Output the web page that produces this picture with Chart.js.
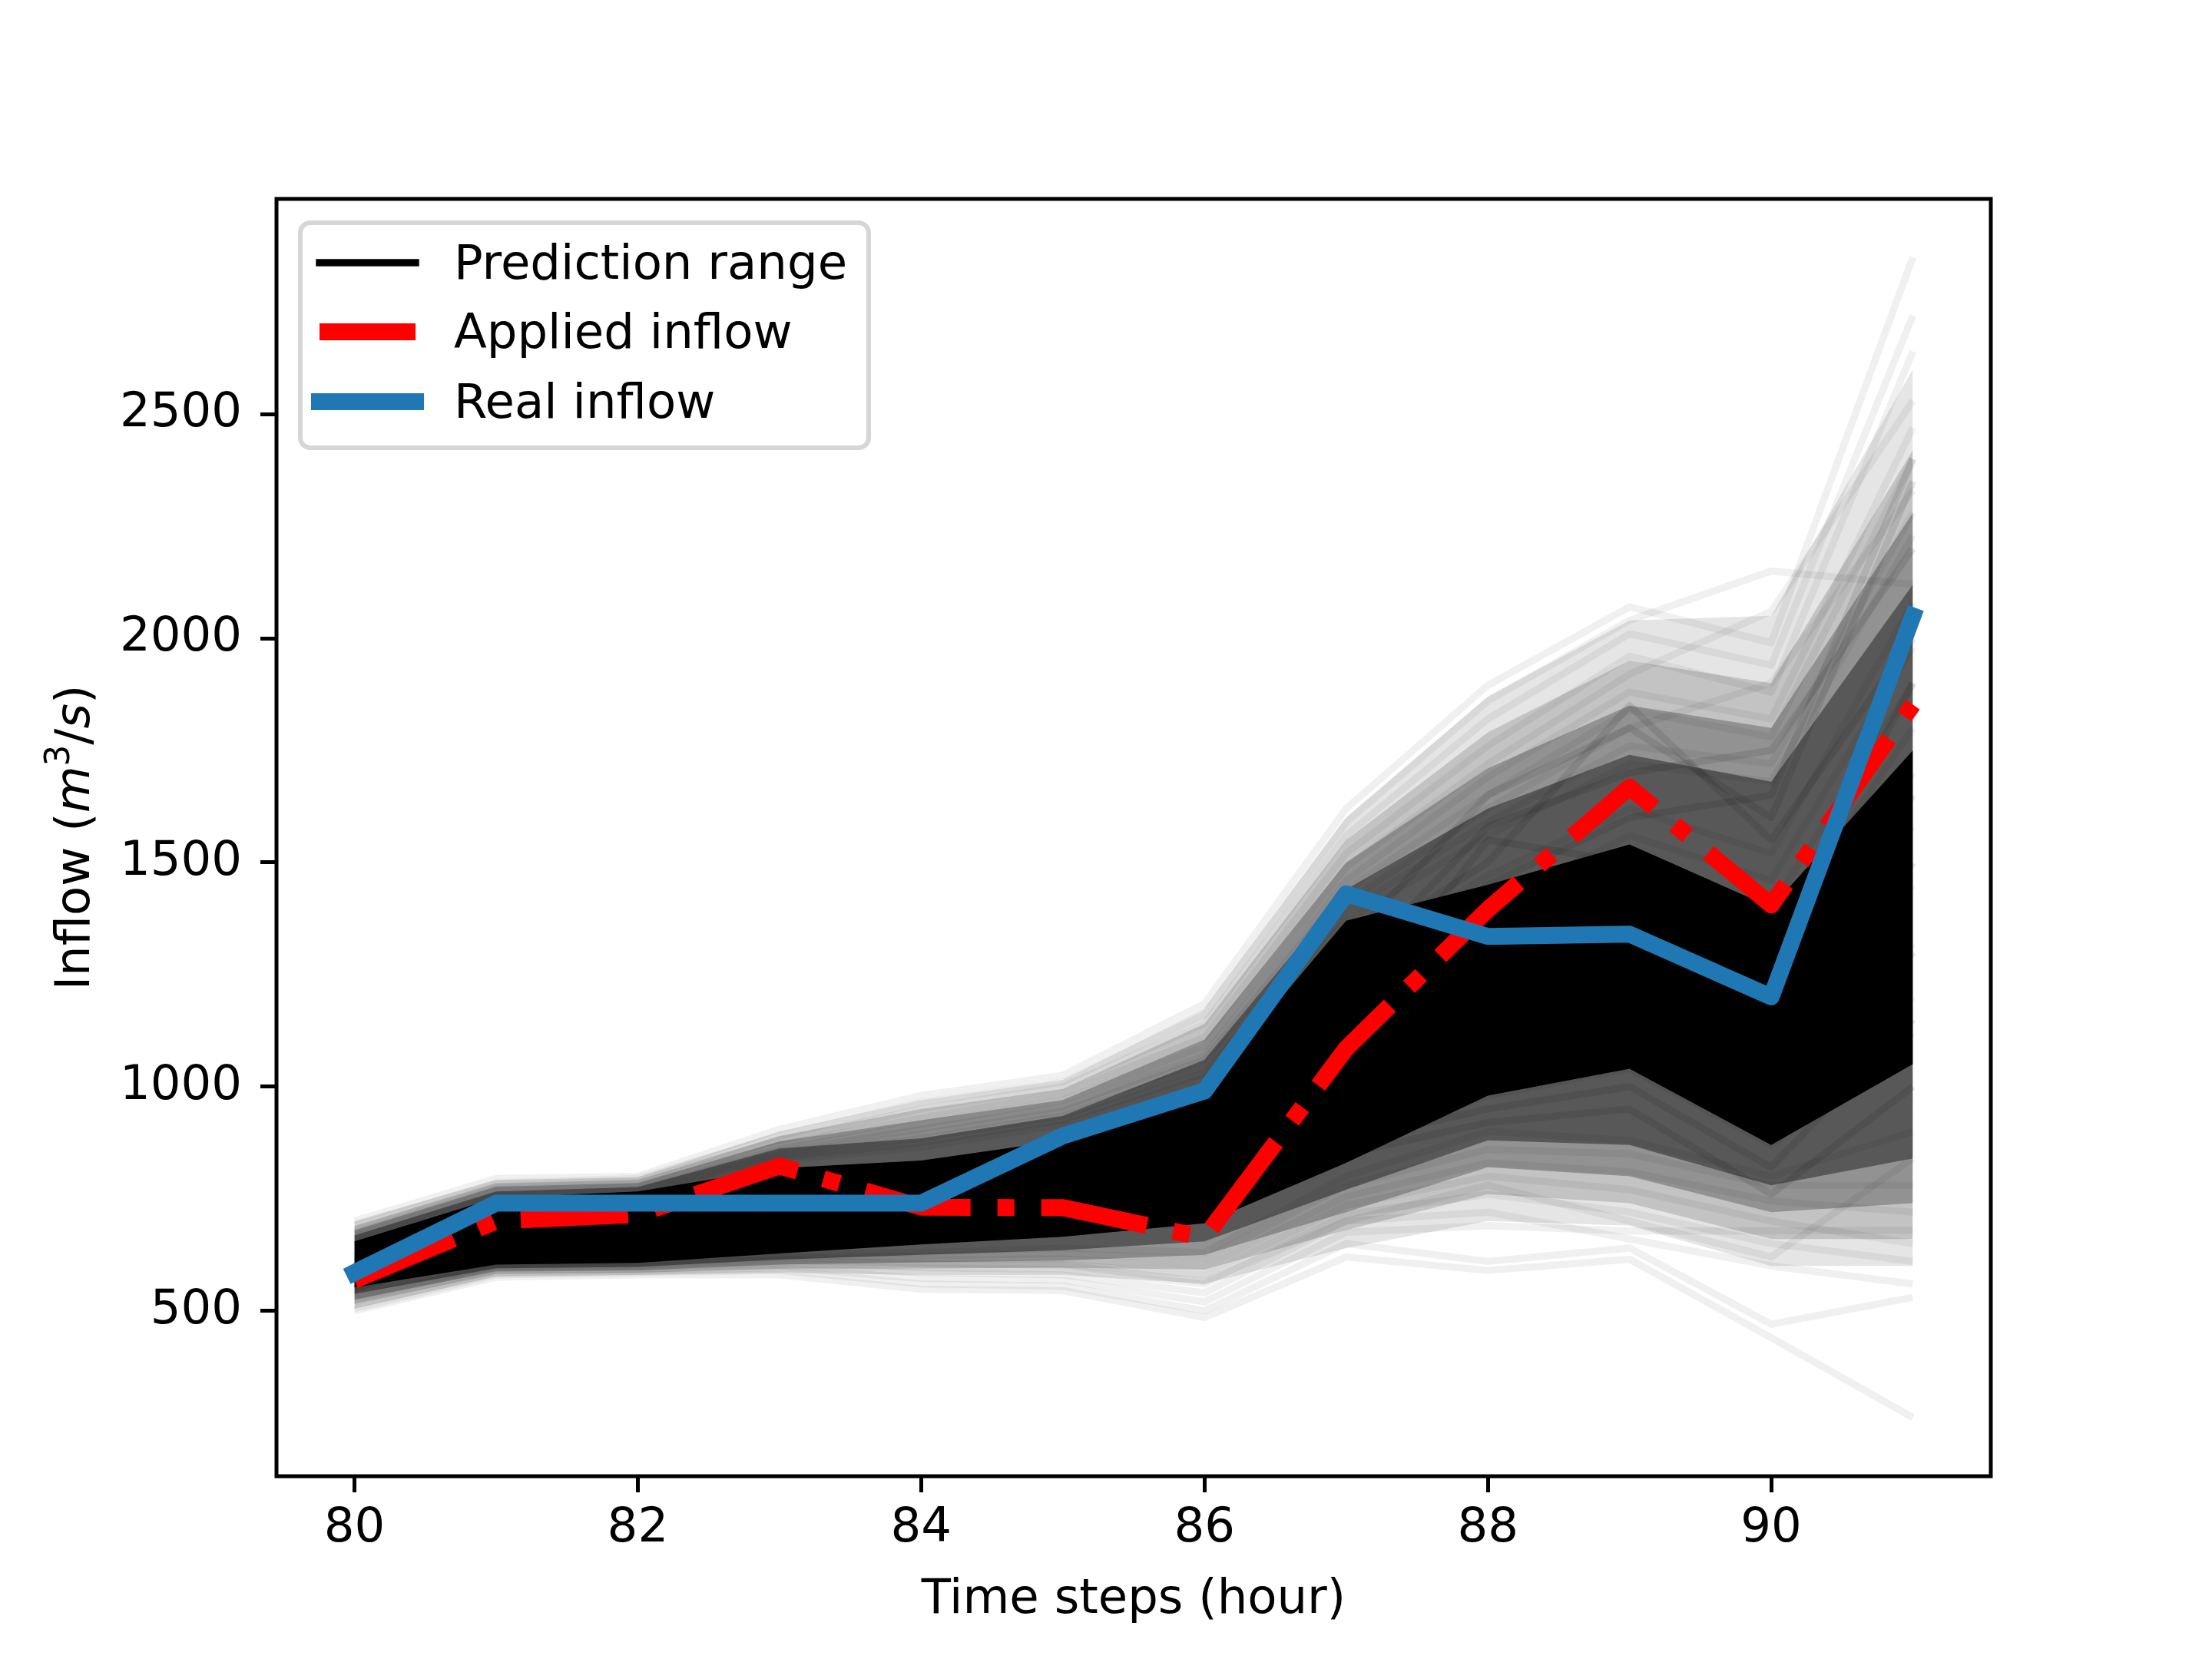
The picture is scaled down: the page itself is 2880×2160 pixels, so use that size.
<!DOCTYPE html>
<html>
<head>
<meta charset="utf-8">
<script src="https://cdn.jsdelivr.net/npm/chart.js@4.4.0/dist/chart.umd.min.js"></script>
<style>
  html, body { margin: 0; padding: 0; background: #fff; }
  canvas { display: block; }
</style>
</head>
<body>
<canvas id="chart" width="2880" height="2160"></canvas>
<script>
// time axis
const steps = [80, 81, 82, 83, 84, 85, 86, 87, 88, 89, 90, 91];
const xTicks = [80, 82, 84, 86, 88, 90];
const yTicks = [500, 1000, 1500, 2000, 2500];

// main series
const realInflow    = [585, 740, 740, 740, 740, 890, 990, 1430, 1335, 1340, 1200, 2050];
const appliedInflow = [568, 700, 715, 823, 731, 730, 663, 1085, 1395, 1668, 1405, 1852];

// prediction density (outer = lightest)
const bandAHi = [700, 792, 798, 900, 970, 1015, 1175, 1600, 1870, 2040, 2050, 2600];
const bandALo = [505, 576, 580, 585, 580, 580, 560, 640, 700, 690, 600, 600];
const bandBHi = [690, 785, 792, 890, 950, 995, 1140, 1550, 1790, 1950, 1900, 2420];
const bandBLo = [515, 582, 585, 594, 594, 596, 592, 680, 760, 740, 660, 660];
const bandCHi = [680, 777, 785, 878, 925, 970, 1105, 1500, 1710, 1850, 1800, 2280];
const bandCLo = [525, 588, 590, 603, 608, 612, 625, 720, 820, 800, 720, 740];
const bandDHi = [668, 766, 776, 862, 885, 935, 1060, 1440, 1620, 1740, 1680, 2120];
const bandDLo = [538, 595, 598, 614, 625, 635, 655, 770, 880, 870, 780, 840];
const coreHi  = [655, 752, 766, 818, 835, 880, 995, 1370, 1450, 1540, 1400, 1750];
const coreLo  = [552, 603, 607, 628, 648, 665, 695, 830, 980, 1040, 870, 1050];

// individual prediction runs that stand out
const highRuns = [
  [700, 795, 800, 905, 980, 1025, 1185, 1620, 1895, 2070, 1990, 2850],
  [690, 785, 795, 890, 965, 1010, 1160, 1590, 1860, 2040, 2150, 2120],
  [680, 780, 790, 880, 950, 1000, 1140, 1560, 1820, 2010, 1940, 2720],
  [675, 775, 785, 870, 930, 985, 1110, 1520, 1760, 1960, 1880, 2640],
  [670, 770, 780, 860, 915, 970, 1090, 1490, 1720, 1920, 2060, 2530],
  [665, 765, 775, 855, 905, 955, 1070, 1460, 1690, 1880, 1820, 2470],
  [660, 760, 770, 850, 895, 945, 1060, 1440, 1650, 1840, 1780, 2400],
  [655, 755, 765, 845, 885, 935, 1045, 1410, 1620, 1800, 1900, 2330],
  [650, 750, 760, 840, 875, 925, 1030, 1390, 1590, 1760, 1720, 2280],
  [645, 745, 755, 835, 865, 915, 1020, 1370, 1560, 1720, 1680, 2230]
];
const midRuns = [
  [620, 730, 745, 800, 810, 850, 950, 1280, 1470, 1620, 1520, 2080],
  [610, 720, 735, 790, 795, 830, 920, 1230, 1400, 1560, 1460, 1980],
  [600, 710, 725, 780, 785, 815, 900, 1190, 1360, 1500, 1400, 1900],
  [595, 700, 715, 770, 775, 800, 880, 1150, 1310, 1440, 1330, 1800],
  [590, 690, 705, 760, 765, 790, 860, 1110, 1260, 1380, 1250, 1700],
  [580, 680, 695, 745, 750, 770, 830, 1060, 1200, 1310, 1160, 1580],
  [570, 665, 685, 730, 735, 750, 800, 1010, 1150, 1240, 1080, 1450],
  [560, 650, 670, 710, 715, 730, 770, 960, 1090, 1170, 990, 1320],
  [550, 635, 655, 690, 695, 705, 740, 910, 1030, 1100, 920, 1200],
  [545, 625, 645, 675, 680, 690, 720, 870, 980, 1040, 870, 1120]
];
const crossRuns = [
  [600, 715, 730, 785, 790, 820, 930, 1320, 1650, 1800, 1600, 2350],
  [590, 705, 720, 770, 780, 805, 900, 1250, 1580, 1700, 1750, 2200],
  [585, 700, 715, 765, 770, 800, 890, 1300, 1500, 1850, 1550, 2000],
  [580, 690, 705, 755, 760, 785, 870, 1200, 1450, 1600, 1650, 2400],
  [575, 685, 700, 750, 755, 780, 850, 1150, 1550, 1500, 1300, 1900],
  [570, 675, 690, 740, 745, 770, 840, 1050, 1250, 1450, 1200, 1650],
  [565, 665, 680, 725, 730, 755, 810, 980, 1100, 1300, 1000, 1500],
  [560, 655, 670, 715, 720, 740, 790, 920, 1000, 1150, 900, 1300],
  [555, 645, 660, 700, 705, 720, 760, 880, 950, 1000, 820, 1150],
  [550, 640, 655, 690, 695, 710, 750, 850, 920, 950, 760, 1000]
];
const lowRuns = [
  [500, 575, 580, 580, 548, 545, 485, 620, 590, 615, 440, 262],
  [505, 580, 585, 590, 560, 555, 500, 650, 610, 640, 470, 530],
  [512, 585, 588, 596, 572, 568, 520, 675, 690, 678, 678, 680],
  [518, 590, 592, 600, 585, 580, 540, 700, 720, 660, 600, 560],
  [522, 594, 598, 606, 596, 592, 560, 715, 760, 720, 650, 610],
  [528, 598, 602, 612, 606, 604, 580, 735, 800, 770, 700, 650],
  [534, 602, 606, 618, 614, 616, 598, 755, 830, 810, 745, 720],
  [538, 606, 610, 622, 622, 628, 615, 780, 860, 850, 780, 780],
  [530, 600, 604, 614, 604, 602, 565, 700, 780, 700, 620, 840],
  [542, 610, 616, 626, 630, 640, 630, 800, 900, 880, 800, 900]
];

const legendLabels = ['Prediction range', 'Applied inflow', 'Real inflow'];
const xTitle = 'Time steps (hour)';

const FONT = '"DejaVu Sans"';
const FS = 62.5;
const BLUE = '#1f77b4';

const pts = (arr) => steps.map((s, i) => ({ x: s, y: arr[i] }));

const datasets = [];
datasets.push({
    data: pts(realInflow), borderColor: BLUE, borderWidth: 22,
    borderCapStyle: 'square', borderJoinStyle: 'round', order: 0
});
datasets.push({
    data: pts(appliedInflow), borderColor: '#ff0000', borderWidth: 22,
    borderDash: [140, 35, 22, 35], borderCapStyle: 'butt', borderJoinStyle: 'round', order: 1
});

const band = (hi, lo, alpha, order) => {
    datasets.push({ data: pts(hi), fill: '+1', backgroundColor: 'rgba(0,0,0,' + alpha + ')',
        borderColor: 'transparent', borderWidth: 1, order: order });
    datasets.push({ data: pts(lo), fill: false, borderColor: 'transparent', borderWidth: 1, order: order });
};
band(coreHi, coreLo, 1, 2);
band(bandDHi, bandDLo, 0.4, 3);
band(bandCHi, bandCLo, 0.25, 4);
band(bandBHi, bandBLo, 0.15, 5);
band(bandAHi, bandALo, 0.1, 6);

highRuns.concat(midRuns, lowRuns).forEach(run => {
    datasets.push({ data: pts(run), borderColor: 'rgba(0,0,0,0.06)', borderWidth: 9.4,
        borderJoinStyle: 'round', order: 7 });
});
crossRuns.forEach(run => {
    datasets.push({ data: pts(run), borderColor: 'rgba(0,0,0,0.1)', borderWidth: 9.4,
        borderJoinStyle: 'round', order: 7 });
});

// frame, axis titles and legend
const decorations = {
    id: 'decorations',
    afterDraw(chart) {
        const { ctx, chartArea: a } = chart;
        ctx.save();
        ctx.strokeStyle = '#000';
        ctx.lineWidth = 5;
        ctx.strokeRect(a.left, a.top, a.right - a.left, a.bottom - a.top);

        ctx.fillStyle = '#000';
        ctx.textBaseline = 'alphabetic';
        ctx.textAlign = 'center';
        ctx.font = FS + 'px ' + FONT;
        ctx.fillText(xTitle, (a.left + a.right) / 2, 2100);

        // y title with math parts
        const normal = FS + 'px ' + FONT;
        const italic = 'italic ' + FS + 'px ' + FONT;
        const small = (FS * 0.7) + 'px ' + FONT;
        const parts = [
            { t: 'Inflow (', f: normal, dy: 0 },
            { t: 'm', f: italic, dy: 0 },
            { t: '3', f: small, dy: -26 },
            { t: '/', f: normal, dy: 0 },
            { t: 's', f: italic, dy: 0 },
            { t: ')', f: normal, dy: 0 }
        ];
        ctx.textAlign = 'left';
        let total = 0;
        parts.forEach(p => { ctx.font = p.f; p.w = ctx.measureText(p.t).width; total += p.w; });
        ctx.translate(116, (a.top + a.bottom) / 2);
        ctx.rotate(-Math.PI / 2);
        let x = -total / 2;
        parts.forEach(p => { ctx.font = p.f; ctx.fillText(p.t, x, p.dy); x += p.w; });
        ctx.setTransform(1, 0, 0, 1, 0, 0);

        // legend box
        ctx.beginPath();
        ctx.roundRect(391, 290, 740, 293, 13);
        ctx.fillStyle = 'rgba(255,255,255,0.8)';
        ctx.fill();
        ctx.lineWidth = 6;
        ctx.strokeStyle = 'rgba(204,204,204,0.8)';
        ctx.stroke();

        const rows = [342, 432, 523];
        const handles = [
            { c: '#000', w: 9.4, cap: 'square' },
            { c: '#ff0000', w: 22, cap: 'butt' },
            { c: BLUE, w: 22, cap: 'square' }
        ];
        rows.forEach((y, i) => {
            const h = handles[i];
            ctx.beginPath();
            ctx.moveTo(416, y);
            ctx.lineTo(541, y);
            ctx.strokeStyle = h.c;
            ctx.lineWidth = h.w;
            ctx.lineCap = h.cap;
            ctx.stroke();
            ctx.fillStyle = '#000';
            ctx.font = normal;
            ctx.fillText(legendLabels[i], 591, y + 21);
        });
        ctx.restore();
    }
};

const axisCommon = {
    type: 'linear',
    border: { display: false },
    grid: { drawOnChartArea: false, drawTicks: true, tickLength: 21, tickWidth: 5, tickColor: '#000' },
    ticks: { color: '#000', font: { family: FONT, size: FS }, autoSkip: false, maxRotation: 0,
        callback: (v) => String(v) }
};

new Chart(document.getElementById('chart').getContext('2d'), {
    type: 'line',
    data: { datasets: datasets },
    options: {
        responsive: false,
        devicePixelRatio: 1,
        animation: false,
        events: [],
        layout: { padding: { left: 0, top: 259, right: 288, bottom: 0 } },
        elements: { point: { radius: 0, hitRadius: 0 }, line: { tension: 0 } },
        plugins: { legend: { display: false }, tooltip: { enabled: false } },
        scales: {
            x: Object.assign({}, axisCommon, {
                min: 79.45, max: 91.55,
                ticks: Object.assign({}, axisCommon.ticks, { padding: 10 }),
                afterBuildTicks: (s) => { s.ticks = xTicks.map(v => ({ value: v })); },
                afterFit: (s) => { s.height = 238; }
            }),
            y: Object.assign({}, axisCommon, {
                min: 131, max: 2980,
                ticks: Object.assign({}, axisCommon.ticks, { padding: 24 }),
                afterBuildTicks: (s) => { s.ticks = yTicks.map(v => ({ value: v })); },
                afterFit: (s) => { s.width = 360; }
            })
        }
    },
    plugins: [decorations]
});
</script>
</body>
</html>
